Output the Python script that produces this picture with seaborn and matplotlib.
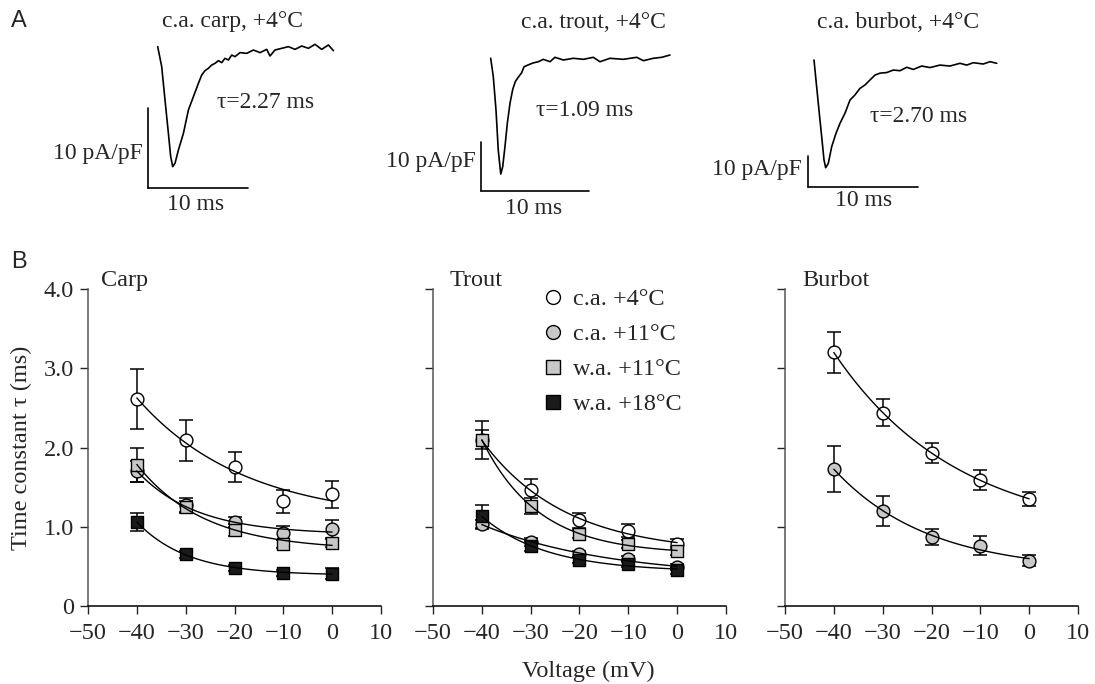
"""Na+ current traces and inactivation time constants (carp, trout, burbot)."""

import matplotlib
matplotlib.use('Agg')
import matplotlib.pyplot as plt
from matplotlib.lines import Line2D
import seaborn as sns
import numpy as np

W, H = 1095, 684

# ---------------- panel A: current traces (time in ms, current in pA/pF)
carp_t = [0.0, 0.40, 0.73, 1.07, 1.30, 1.50, 1.73, 2.07, 2.57, 3.07, 3.57, 4.07,
          4.40, 4.73, 5.07, 5.40, 5.73, 6.07, 6.40, 6.73, 7.07, 7.40, 7.73, 8.23,
          8.90, 9.57, 10.23, 10.90, 11.23, 11.73, 12.40, 13.07, 13.73, 14.40,
          15.07, 15.73, 16.40, 17.07, 17.57]
carp_i = [0.17, -2.33, -6.5, -10.67, -13.58, -14.83, -14.42, -12.75, -10.67, -7.75,
          -6.08, -4.42, -3.38, -2.83, -2.54, -2.13, -1.92, -1.58, -1.83, -1.29,
          -1.5, -0.88, -1.08, -0.58, -0.67, -0.25, -0.58, -0.17, -1.0, -0.25,
          -0.04, 0.17, -0.17, 0.25, -0.04, 0.46, -0.17, 0.38, -0.33]

trout_t = [0.0, 0.24, 0.49, 0.70, 0.93, 1.11, 1.32, 1.54, 1.79, 2.04, 2.28, 2.56,
           2.87, 3.08, 3.48, 3.94, 4.41, 4.87, 5.49, 5.95, 6.73, 7.65, 8.58, 9.50,
           10.12, 11.05, 12.28, 13.52, 14.14, 15.06, 15.83, 16.60]
trout_i = [-0.06, -3.8, -10.6, -18.8, -23.7, -22.2, -18.1, -13.3, -9.2, -6.4, -4.8,
           -3.9, -3.0, -1.8, -1.4, -1.0, -0.76, -0.27, -0.76, 0.14, -0.41, -0.06,
           -0.27, 0.14, -0.76, -0.06, -0.27, 0.14, -0.55, -0.06, 0.14, 0.61]

burbot_t = [0.0, 0.24, 0.48, 0.73, 0.91, 1.06, 1.30, 1.61, 2.0, 2.36, 2.82, 3.27,
            3.73, 4.18, 4.64, 5.09, 5.55, 6.0, 6.61, 7.21, 7.82, 8.43, 9.03, 9.79,
            10.55, 11.45, 12.36, 13.27, 13.88, 14.48, 15.39, 16.0, 16.61]
burbot_i = [0.65, -7.97, -16.5, -25.2, -31.6, -34.1, -32.7, -27.3, -23.0, -19.8,
            -16.5, -12.3, -10.6, -8.5, -7.4, -5.8, -4.2, -3.6, -3.4, -2.6, -2.8,
            -1.7, -2.4, -1.3, -1.8, -1.0, -1.3, -0.42, -1.0, -0.23, -0.65, 0.1, -0.42]

trace_titles = ['c.a. carp, +4°C', 'c.a. trout, +4°C', 'c.a. burbot, +4°C']
trace_tau = ['τ=2.27 ms', 'τ=1.09 ms', 'τ=2.70 ms']
scale_ms = 10
scale_pa = 10

# ---------------- panel B: time constants (ms), mean and s.e.m.
voltages = [-40, -30, -20, -10, 0]

carp_ca4 = [2.61, 2.09, 1.75, 1.32, 1.41]
carp_ca4_err = [0.38, 0.26, 0.19, 0.15, 0.17]
carp_ca11 = [1.70, 1.27, 1.06, 0.92, 0.97]
carp_ca11_err = [0.13, 0.09, 0.06, 0.09, 0.12]
carp_wa11 = [1.78, 1.25, 0.96, 0.78, 0.80]
carp_wa11_err = [0.22, 0.08, 0.08, 0.05, 0.06]
carp_wa18 = [1.06, 0.65, 0.48, 0.42, 0.41]
carp_wa18_err = [0.11, 0.04, 0.04, 0.04, 0.07]

trout_ca4 = [2.09, 1.46, 1.08, 0.95, 0.78]
trout_ca4_err = [0.24, 0.14, 0.09, 0.08, 0.06]
trout_ca11 = [1.03, 0.81, 0.66, 0.59, 0.49]
trout_ca11_err = [0.06, 0.05, 0.04, 0.04, 0.04]
trout_wa11 = [2.10, 1.26, 0.91, 0.78, 0.69]
trout_wa11_err = [0.12, 0.10, 0.05, 0.05, 0.05]
trout_wa18 = [1.13, 0.76, 0.58, 0.53, 0.45]
trout_wa18_err = [0.14, 0.06, 0.04, 0.04, 0.04]

burbot_ca4 = [3.20, 2.44, 1.93, 1.59, 1.35]
burbot_ca4_err = [0.26, 0.17, 0.13, 0.12, 0.09]
burbot_ca11 = [1.73, 1.20, 0.87, 0.76, 0.57]
burbot_ca11_err = [0.29, 0.19, 0.10, 0.12, 0.07]

group_labels = ['c.a. +4°C', 'c.a. +11°C', 'w.a. +11°C', 'w.a. +18°C']
species = ['Carp', 'Trout', 'Burbot']

# marker styles per group (marker, face colour)
GROUP_STYLE = {
    'c.a. +4°C': ('o', 'white'),
    'c.a. +11°C': ('o', '#c8c8c8'),
    'w.a. +11°C': ('s', '#c8c8c8'),
    'w.a. +18°C': ('s', '#1a1a1a'),
}

FS_A = 17
FS_B = 17.5

sns.set_theme(style='ticks')
plt.rcParams['font.family'] = ['Liberation Serif', 'DejaVu Serif']
plt.rcParams['axes.unicode_minus'] = True

fig = plt.figure(figsize=(W / 100, H / 100), dpi=100)


def fx(px):
    return px / W


def fy(py):
    return 1 - py / H


def exp_fit(v, y):
    """Least-squares fit y = c + a*exp(-(v+40)/k), k by grid search."""
    v = np.asarray(v, float)
    y = np.asarray(y, float)
    best = None
    for k in np.linspace(2, 150, 600):
        e = np.exp(-(v + 40) / k)
        A = np.column_stack([np.ones_like(e), e])
        coef = np.linalg.lstsq(A, y, rcond=None)[0]
        sse = np.sum((A @ coef - y) ** 2)
        if best is None or sse < best[0]:
            best = (sse, coef, k)
    _, (c, a), k = best
    vv = np.linspace(v.min(), v.max(), 120)
    return vv, c + a * np.exp(-(vv + 40) / k)


# ---------------- panel A
traces = [(carp_t, carp_i), (trout_t, trout_i), (burbot_t, burbot_i)]
# pixel origin of trace (t=0, I=0), px per ms, px per pA/pF
trace_geom = [(157.7, 48, 10.0, 8.0), (490.7, 58, 10.8, 4.9), (814, 62, 11.0, 3.1)]
bar_corner = [(-0.97, -17.5), (-0.90, -27.1), (-0.55, -40.3)]
title_pos = [(233, 22), (593, 22), (898, 22)]
tau_pos = [(217, 102), (536, 110), (870, 117)]
pa_pos = [(143, 153), (476, 162), (802, 170)]
ms_pos = [(196, 204), (534, 208), (864, 201)]

band_h = 240
for k, ((t, i), (x0, y0, sx, sy)) in enumerate(zip(traces, trace_geom)):
    ax = fig.add_axes([0, fy(band_h), 1, band_h / H])
    ax.set_facecolor('none')
    ax.axis('off')
    ax.set_xlim(-x0 / sx, (W - x0) / sx)
    ax.set_ylim(-(band_h - y0) / sy, y0 / sy)
    sns.lineplot(x=t, y=i, ax=ax, color='black', lw=1.2, sort=False)
    bx, by = bar_corner[k]
    ax.plot([bx, bx], [by + scale_pa, by], color='black', lw=1.2)
    ax.plot([bx, bx + scale_ms], [by, by], color='black', lw=1.2)
    fig.text(fx(title_pos[k][0]), fy(title_pos[k][1]), trace_titles[k],
             ha='center', va='center', fontsize=FS_A)
    fig.text(fx(tau_pos[k][0]), fy(tau_pos[k][1]), trace_tau[k],
             ha='left', va='center', fontsize=FS_A)
    fig.text(fx(pa_pos[k][0]), fy(pa_pos[k][1]), f'{scale_pa} pA/pF',
             ha='right', va='center', fontsize=FS_A)
    fig.text(fx(ms_pos[k][0]), fy(ms_pos[k][1]), f'{scale_ms} ms',
             ha='center', va='center', fontsize=FS_A)

fig.text(fx(11), fy(21), 'A', family='Liberation Sans', fontsize=17,
         ha='left', va='center')
fig.text(fx(11), fy(262), 'B', family='Liberation Sans', fontsize=17,
         ha='left', va='center')

# ---------------- panel B
panel_data = {
    'Carp': [(carp_ca4, carp_ca4_err), (carp_ca11, carp_ca11_err),
             (carp_wa11, carp_wa11_err), (carp_wa18, carp_wa18_err)],
    'Trout': [(trout_ca4, trout_ca4_err), (trout_ca11, trout_ca11_err),
              (trout_wa11, trout_wa11_err), (trout_wa18, trout_wa18_err)],
    'Burbot': [(burbot_ca4, burbot_ca4_err), (burbot_ca11, burbot_ca11_err)],
}
ax_left = [88, 433, 785]
title_x = [0.044, 0.058, 0.058]
axes = []
for n, name in enumerate(species):
    ax = fig.add_axes([fx(ax_left[n]), fy(606), 293 / W, 317 / H])
    axes.append(ax)
    for g, (vals, err) in enumerate(panel_data[name]):
        marker, face = GROUP_STYLE[group_labels[g]]
        ax.errorbar(voltages, vals, yerr=err, fmt='none', ecolor='black',
                    elinewidth=1.1, capsize=5, capthick=1.1, zorder=2)
        sns.scatterplot(x=voltages, y=vals, marker=marker, s=85, color=face,
                        edgecolor='black', linewidth=1, ax=ax, zorder=3,
                        legend=False)
        vv, fit = exp_fit(voltages, vals)
        sns.lineplot(x=vv, y=fit, ax=ax, color='black', lw=1, zorder=4)
    ax.set_xlim(-50, 10)
    ax.set_ylim(0, 4)
    ax.set_xticks(range(-50, 11, 10))
    ax.set_yticks([0, 1, 2, 3, 4])
    ax.tick_params(direction='out', length=6, width=1, labelsize=FS_B, pad=4)
    ax.tick_params(axis='x', pad=6.5)
    sns.despine(ax=ax)
    ax.spines['left'].set_color('#555555')
    ax.spines['bottom'].set_color('black')
    ax.spines['left'].set_linewidth(1.1)
    ax.spines['bottom'].set_linewidth(1.1)
    ax.text(title_x[n], 1.028, name, transform=ax.transAxes, ha='left',
            va='center', fontsize=FS_B)
    if n == 0:
        ax.set_yticklabels(['0', '1.0', '2.0', '3.0', '4.0'])
        ax.set_ylabel('Time constant τ (ms)', fontsize=FS_B)
        ax.yaxis.set_label_coords(-0.19, 0.5)
    else:
        ax.set_yticklabels([])
    ax.set_xlabel('')

axes[1].set_xlabel('Voltage (mV)', fontsize=FS_B)
axes[1].xaxis.set_label_coords((588 - 433) / 293, -0.172)

handles = []
for lab in group_labels:
    marker, face = GROUP_STYLE[lab]
    handles.append(Line2D([], [], marker=marker, ls='none', markerfacecolor=face,
                          markeredgecolor='black', markeredgewidth=1,
                          markersize=10 if marker == 'o' else 10.5))
axes[1].legend(handles, group_labels, loc='upper left',
               bbox_to_anchor=(fx(543), fy(288)), bbox_transform=fig.transFigure,
               frameon=False, fontsize=FS_B, handlelength=0.8, handletextpad=0.45,
               labelspacing=0.54, borderpad=0, borderaxespad=0)

fig.savefig('out.png', dpi=100)
